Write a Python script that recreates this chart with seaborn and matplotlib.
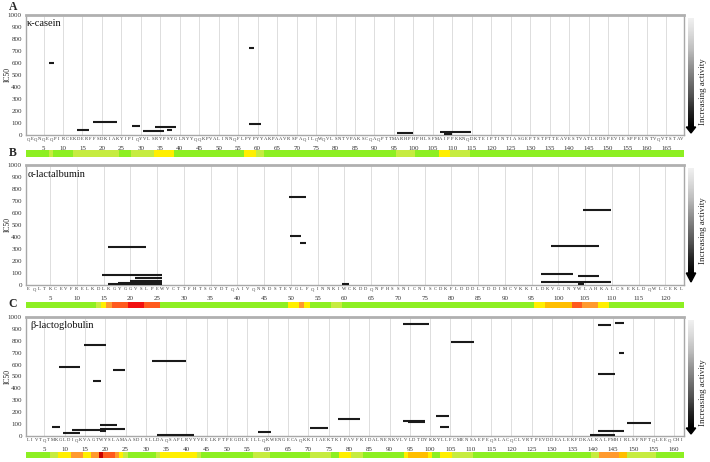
import numpy as np
import matplotlib
matplotlib.use("Agg")
import matplotlib.pyplot as plt
import seaborn as sns
from matplotlib.colors import ListedColormap
from matplotlib.patches import Polygon

# ---------------- data ----------------
panel_letters = ["A", "B", "C"]
protein_names = ["κ-casein", "α-lactalbumin", "β-lactoglobulin"]

seq_kcas = ("QEQNQEQPIRCEKDERFFSDKIAKYIPIQYVLSRYPSYGLNYYQQKPVALINNQFLPYPY"
            "YAKPAAVRSPAQILQWQVLSNTVPAKSCQAQPTTMARHPHPHLSFMAIPPKKNQDKTEIP"
            "TINTIASGEPTSTPTTEAVESTVATLEDSPEVIESPPEINTVQVTSTAV")
seq_alac = ("EQLTKCEVFRELKDLKGYGGVSLPEWVCTTFHTSGYDTQAIVQNNDSTEYGLFQINNKIW"
            "CKDDQNPHSSNICNISCDKFLDDDLTDDIMCVKKILDKVGINYWLAHKALCSEKLDQWLC"
            "EKL")
seq_blg = ("LIVTQTMKGLDIQKVAGTWYSLAMAASDISLLDAQSAPLRVYVEELKPTPEGDLEILLQK"
           "WENGECAQKKIIAEKTKIPAVFKIDALNENKVLVLDTDYKKYLLFCMENSAEPEQSLACQ"
           "CLVRTPEVDDEALEKFDKALKALPMHIRLSFNPTQLEEQCHI")

y_tick_values = [0, 100, 200, 300, 400, 500, 600, 700, 800, 900, 1000]
x_tick_step = 5
arrow_label = "Increasing activity"
y_label = "IC50"

# peptides (start / end position in residue units, IC50)
kcas_pep_start = [6.3, 13.6, 17.6, 27.7, 30.5, 33.7, 36.6, 57.7, 57.7, 95.7, 106.8, 107.8]
kcas_pep_end = [7.8, 16.8, 23.9, 29.9, 35.9, 38.9, 37.9, 59.0, 60.9, 100.0, 114.9, 109.8]
kcas_pep_ic50 = [602, 42, 112, 73, 37, 64, 45, 722, 89, 17, 22, 12]

alac_pep_start = [15.9, 14.8, 20.8, 19.9, 17.7, 15.9, 49.7, 49.8, 51.7, 59.5,
                  104.6, 98.7, 96.7, 103.7, 96.7, 103.7]
alac_pep_end = [23.0, 25.9, 25.9, 25.9, 25.9, 25.9, 52.9, 51.9, 52.9, 60.8,
                109.8, 107.7, 102.8, 107.7, 109.8, 104.8]
alac_pep_ic50 = [314, 86, 61, 30, 17, 5, 733, 412, 351, 6,
                 621, 329, 92, 78, 28, 8]

blg_pep_start = [6.8, 8.7, 9.7, 14.8, 16.9, 21.8, 11.9, 18.7, 18.7, 18.7, 31.6, 32.7,
                 57.5, 70.4, 77.4, 93.4, 93.4, 94.6, 101.4, 102.4, 105.2,
                 141.3, 145.5, 146.5, 141.3, 148.4, 141.3, 139.4]
blg_pep_end = [8.9, 13.9, 13.9, 20.1, 19.0, 24.9, 20.1, 24.9, 22.8, 20.1, 40.0, 41.9,
               60.8, 74.9, 82.7, 99.6, 98.8, 98.8, 104.7, 104.7, 110.8,
               144.6, 147.8, 147.8, 145.6, 154.4, 147.8, 145.6]
blg_pep_ic50 = [73, 578, 28, 768, 464, 556, 50, 59, 89, 42, 634, 8,
                31, 64, 145, 945, 130, 118, 170, 78, 791,
                930, 953, 698, 522, 106, 42, 8]

# heat strip runs (first residue, last residue, level)
kcas_run_first = [1, 7, 8, 13, 25, 28, 34, 39, 57, 60, 62, 96, 101, 107, 110, 115]
kcas_run_last = [6, 7, 12, 24, 27, 33, 38, 56, 59, 61, 95, 100, 106, 109, 114, 169]
kcas_run_level = [0, 1, 0, 1, 0, 1, 2, 0, 2, 1, 0, 1, 0, 2, 1, 0]

alac_run_first = [1, 14, 15, 16, 17, 20, 23, 26, 50, 52, 53, 54, 58, 60, 96, 98, 103, 105, 108, 110]
alac_run_last = [13, 14, 15, 16, 19, 22, 25, 49, 51, 52, 53, 57, 59, 95, 97, 102, 104, 107, 109, 123]
alac_run_level = [0, 1, 2, 4, 5, 6, 5, 0, 2, 4, 2, 0, 1, 0, 2, 3, 5, 4, 2, 0]

blg_run_first = [1, 7, 9, 12, 15, 17, 19, 20, 23, 24, 25, 26, 33, 34, 43, 44, 57, 61, 71, 76,
                 78, 81, 84, 94, 95, 100, 101, 103, 106, 111, 140, 142, 147, 149, 156]
blg_run_last = [6, 8, 11, 14, 16, 18, 19, 22, 23, 24, 25, 32, 33, 42, 43, 56, 60, 70, 75, 77,
                80, 83, 93, 94, 99, 100, 102, 105, 110, 139, 141, 146, 148, 155, 162]
blg_run_level = [0, 1, 2, 4, 2, 4, 7, 5, 4, 2, 1, 0, 1, 2, 1, 0, 1, 0, 1, 0,
                 2, 1, 0, 2, 3, 2, 0, 2, 1, 0, 1, 4, 3, 1, 0]

level_colors = ["#8DEF22", "#C6EC40", "#FFEF00", "#FFBE00",
                "#FF9A2E", "#FF5A1E", "#F21010", "#C80000"]

# ---------------- figure ----------------
sns.set_style("white")
plt.rcParams['font.family'] = ['Liberation Serif', 'DejaVu Serif']

W, H = 710, 462
fig = plt.figure(figsize=(W / 100, H / 100), dpi=100)


def rect(x0, y0, x1, y1):
    return [x0 / W, 1 - y1 / H, (x1 - x0) / W, (y1 - y0) / H]


panels = [
    (seq_kcas, kcas_pep_start, kcas_pep_end, kcas_pep_ic50,
     kcas_run_first, kcas_run_last, kcas_run_level),
    (seq_alac, alac_pep_start, alac_pep_end, alac_pep_ic50,
     alac_run_first, alac_run_last, alac_run_level),
    (seq_blg, blg_pep_start, blg_pep_end, blg_pep_ic50,
     blg_run_first, blg_run_last, blg_run_level),
]

ax_top = [15, 165, 317]
ax_bot = [135, 285, 436]
strip_top = [150, 302, 452]
strip_bot = [157, 308, 458]
letter_y = [7, 153, 304]
bar_top = [18, 168, 320]
bar_bot = [127, 273, 428]
arrow_tip = [133, 282, 434]
arrow_text_y = [92, 231, 393]
name_x = [0.002, 0.003, 0.007]
X0, X1 = 26, 684

cmap = ListedColormap(level_colors)
grad = np.linspace(0.12, 1.0, 200).reshape(-1, 1)

for i, (seq, ps, pe, pic, rf, rl, rlev) in enumerate(panels):
    n = len(seq)
    ax = fig.add_axes(rect(X0, ax_top[i], X1, ax_bot[i]))
    ax.set_xlim(0.5, n + 0.5)
    ax.set_ylim(0, 1000)
    ax.set_yticks(y_tick_values)
    ax.set_yticklabels([str(v) for v in y_tick_values])
    ax.tick_params(axis='y', labelsize=5, length=0, pad=3, colors='#333333')

    ax.xaxis.remove_overlapping_locs = False
    ax.set_xticks(np.arange(x_tick_step, n + 1, x_tick_step))
    ax.set_xticklabels([str(v) for v in np.arange(x_tick_step, n + 1, x_tick_step)])
    ax.set_xticks(np.arange(1, n + 1), minor=True)
    ax.set_xticklabels(list(seq), minor=True)
    ax.tick_params(axis='x', which='major', labelsize=5, length=2, pad=6.0,
                   colors='#555555', labelcolor='#333333', width=0.5)
    ax.tick_params(axis='x', which='minor', labelsize=3.3, length=0, pad=1.5,
                   labelcolor='#333333')
    ax.grid(axis='x', which='major', color='#DDDDDD', lw=0.7)
    ax.grid(axis='x', which='minor', visible=False)
    ax.grid(axis='y', visible=False)
    ax.set_axisbelow(True)
    for s in ['left', 'right', 'bottom']:
        ax.spines[s].set_color('#A8A8A8')
        ax.spines[s].set_linewidth(1.0)
    ax.spines['top'].set_color('#B0B0B0')
    ax.spines['top'].set_linewidth(2.0)

    ax.hlines(pic, ps, pe, colors='#1A1A1A', linewidth=1.5, zorder=3)

    ax.text(name_x[i], 0.925, protein_names[i], transform=ax.transAxes,
            fontsize=7.5, va='center', ha='left', color='#111111')

    fig.text(13 / W, 1 - letter_y[i] / H, panel_letters[i], fontsize=8.5,
             fontweight='bold', ha='center', va='center')
    fig.text(8 / W, 1 - (ax_top[i] + ax_bot[i]) / 2 / H, y_label, rotation=90,
             fontsize=5.5, ha='center', va='center')

    # heat strip
    levels = np.zeros(n)
    for a, b, lv in zip(rf, rl, rlev):
        levels[a - 1:b] = lv
    axs = fig.add_axes(rect(X0, strip_top[i], X1, strip_bot[i]))
    sns.heatmap(levels.reshape(1, -1), ax=axs, cmap=cmap, vmin=-0.5,
                vmax=len(level_colors) - 0.5, cbar=False,
                xticklabels=False, yticklabels=False)
    axs.set_xlim(0, n)
    axs.set_axis_off()

    # activity arrow
    axb = fig.add_axes(rect(688.3, bar_top[i], 693.7, bar_bot[i]))
    axb.imshow(grad, cmap='Greys', aspect='auto', vmin=0, vmax=1,
               interpolation='bilinear')
    axb.set_axis_off()
    tri = Polygon([[686.3 / W, 1 - bar_bot[i] / H],
                   [695.7 / W, 1 - bar_bot[i] / H],
                   [691.0 / W, 1 - arrow_tip[i] / H]],
                  closed=True, transform=fig.transFigure, color='black')
    fig.patches.append(tri)
    fig.text(703 / W, 1 - arrow_text_y[i] / H, arrow_label, rotation=90,
             fontsize=6.5, ha='center', va='center')

fig.savefig("out.png", dpi=100)
